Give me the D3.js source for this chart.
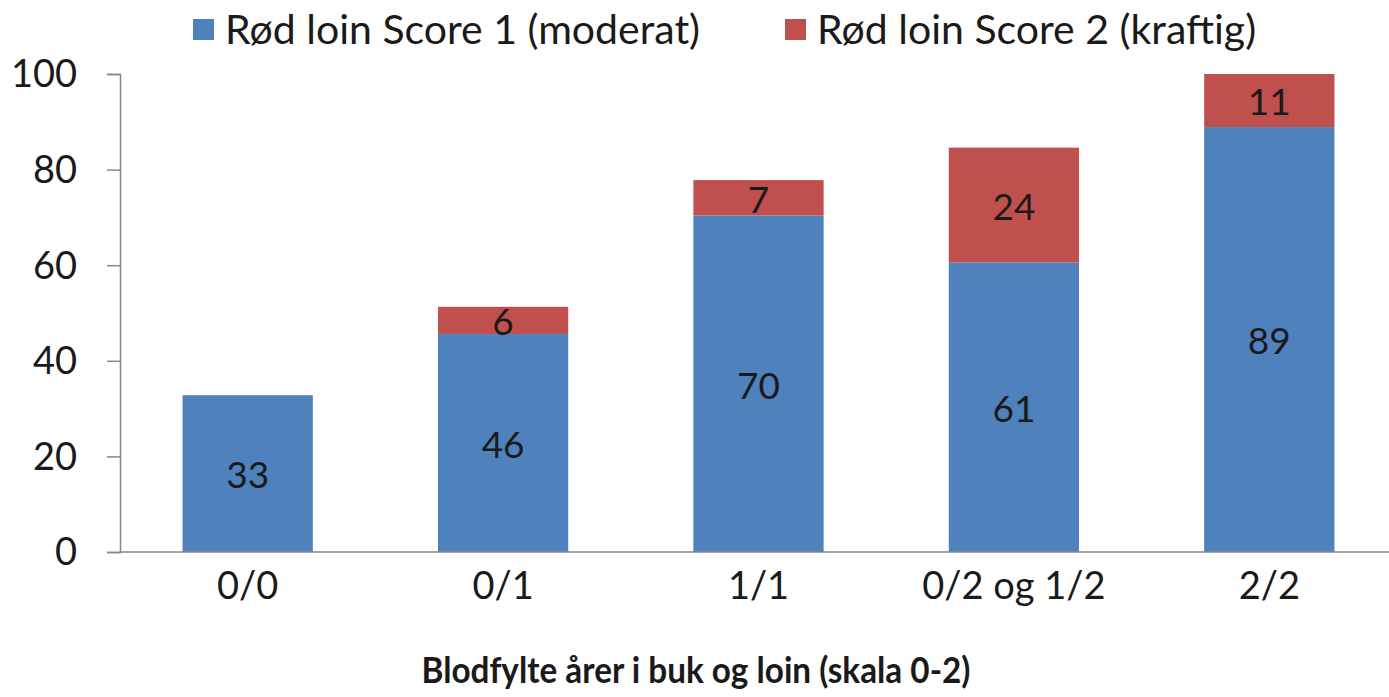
<!DOCTYPE html>
<meta charset="utf-8">
<script src="https://d3js.org/d3.v7.min.js"></script>
<style>
  body { margin: 0; background: #fff; }
  text { font-family: Lato, "Open Sans", sans-serif; fill: #1a1a1a; }
</style>
<div id="chart"></div>
<script>
// data
var categories = ["0/0", "0/1", "1/1", "0/2 og 1/2", "2/2"];
var score1 = [32.8, 45.6, 70.4, 60.6, 88.9];   // Rød loin Score 1 (moderat)
var score2 = [0, 5.7, 7.4, 24.0, 11.1];        // Rød loin Score 2 (kraftig)
var seriesNames = ["Rød loin Score 1 (moderat)", "Rød loin Score 2 (kraftig)"];
var yTicks = [0, 20, 40, 60, 80, 100];

var colors = ["#4F81BD", "#C0504D"];
var width = 1389, height = 697;

var svg = d3.select("#chart").append("svg")
  .attr("width", width)
  .attr("height", height);

var x = d3.scaleBand()
  .domain(categories)
  .range([120, 1397])
  .paddingInner(0.49)
  .paddingOuter(0.245);

var y = d3.scaleLinear()
  .domain([0, 100])
  .range([552, 74]);

// build table for stacking
var table = categories.map(function(c, i) {
  return { cat: c, s1: score1[i], s2: score2[i] };
});
var stack = d3.stack().keys(["s1", "s2"])(table);

var layers = svg.selectAll(".layer")
  .data(stack)
  .enter().append("g")
    .attr("class", "layer")
    .attr("fill", function(d, i) { return colors[i]; });

layers.selectAll("rect")
  .data(function(d) { return d.filter(function(p) { return p[1] - p[0] > 0; }); })
  .enter().append("rect")
    .attr("x", function(d) { return x(d.data.cat); })
    .attr("y", function(d) { return y(d[1]); })
    .attr("width", x.bandwidth())
    .attr("height", function(d) { return y(d[0]) - y(d[1]); });

// value labels in the middle of each segment
layers.selectAll("text")
  .data(function(d) { return d.filter(function(p) { return p[1] - p[0] > 0; }); })
  .enter().append("text")
    .attr("x", function(d) { return x(d.data.cat) + x.bandwidth() / 2; })
    .attr("y", function(d) { return (y(d[0]) + y(d[1])) / 2; })
    .attr("dy", "0.4em")
    .attr("text-anchor", "middle")
    .style("font-size", "37px")
    .text(function(d) { return Math.round(d[1] - d[0]); });

// y axis
var yAxis = svg.append("g")
  .attr("transform", "translate(120,0)")
  .call(d3.axisLeft(y).tickValues(yTicks).tickSize(13).tickSizeOuter(13).tickPadding(30));
yAxis.select(".domain").attr("stroke", "#868686").attr("stroke-width", 1.5);
yAxis.selectAll(".tick line").attr("stroke", "#868686").attr("stroke-width", 1.5);
yAxis.selectAll(".tick text").style("font-size", "38px").attr("fill", "#1a1a1a").attr("dy", "0.34em");

// x axis
var xAxis = svg.append("g")
  .attr("transform", "translate(0," + y(0) + ")")
  .call(d3.axisBottom(x).tickSize(0).tickPadding(47));
xAxis.select(".domain").attr("d", "M120,0H1389").attr("stroke", "#868686").attr("stroke-width", 1.5);
xAxis.selectAll(".tick text").style("font-size", "38px").attr("fill", "#1a1a1a").attr("dy", "0");

// x axis title (squeezed a bit to look like the narrow original font)
svg.append("text")
  .attr("transform", "translate(696,683) scale(0.9,1)")
  .attr("text-anchor", "middle")
  .style("font-size", "37px")
  .style("font-weight", "bold")
  .text("Blodfylte årer i buk og loin (skala 0-2)");

// legend
var legendX = [193, 785];
var legend = svg.selectAll(".legend")
  .data(seriesNames)
  .enter().append("g")
    .attr("class", "legend")
    .attr("transform", function(d, i) { return "translate(" + legendX[i] + ",0)"; });
legend.append("rect")
  .attr("x", 0).attr("y", 19)
  .attr("width", 21).attr("height", 21)
  .attr("fill", function(d, i) { return colors[i]; });
legend.append("text")
  .attr("x", 32).attr("y", 44)
  .style("font-size", "41px")
  .text(function(d) { return d; });
</script>
